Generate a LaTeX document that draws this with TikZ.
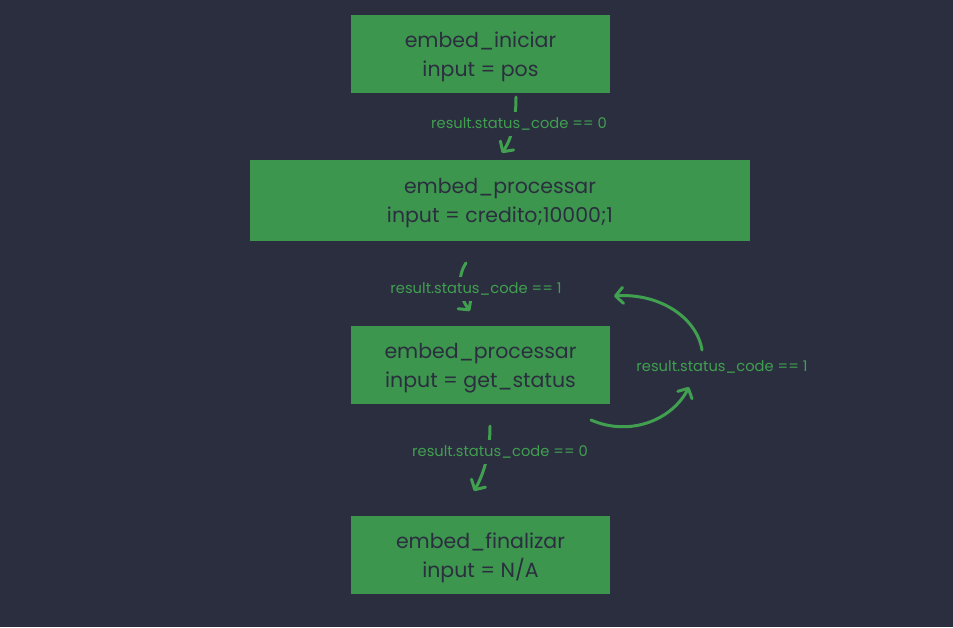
\documentclass[tikz,border=0pt]{standalone}
\usepackage{fontspec}
\setmainfont{Poppins}
\usetikzlibrary{arrows.meta}
\definecolor{bgnavy}{RGB}{43,46,63}
\definecolor{boxgreen}{RGB}{61,150,77}
\definecolor{linkgreen}{RGB}{64,160,80}
\tikzset{
  stepbox/.style={fill=boxgreen, draw=none, text=bgnavy, align=center,
    font=\fontsize{20.5pt}{29pt}\selectfont, inner sep=0pt},
  link/.style={draw=linkgreen, line width=3pt, line cap=round,
    -{Straight Barb[length=7.5pt,width=16pt,line width=3pt,round]}},
  cond/.style={text=linkgreen, fill=bgnavy, font=\fontsize{14.7pt}{16pt}\selectfont,
    inner xsep=1pt, inner ysep=6pt},
}
\begin{document}
\begin{tikzpicture}[x=1pt,y=-1pt]
  \fill[bgnavy] (0,0) rectangle (953,627);
  \useasboundingbox (0,0) rectangle (953,627);

  % steps (box first, then the two text lines on top)
  \node[stepbox, minimum width=259pt, minimum height=78pt] (iniciar) at (480.5,54) {};
  \node[stepbox, fill=none] (iniciarT) at (480.5,57) {embed\_iniciar\\input = pos};
  \node[stepbox, minimum width=500pt, minimum height=81pt] (credito) at (500,200.5) {};
  \node[stepbox, fill=none] (creditoT) at (500,203.5) {embed\_processar\\input = credito;10000;1};
  \node[stepbox, minimum width=259pt, minimum height=78pt] (status) at (480.5,365) {};
  \node[stepbox, fill=none] (statusT) at (480.5,368) {embed\_processar\\input = get\_status};
  \node[stepbox, minimum width=259pt, minimum height=78pt] (finalizar) at (480.5,555) {};
  \node[stepbox, fill=none] (finalizarT) at (480.5,558) {embed\_finalizar\\input = N/A};

  % connector end points
  \coordinate (a1) at (516,97);
  \coordinate (b1) at (502,153);
  \coordinate (a2) at (466,263);
  \coordinate (b2) at (470,311);
  \coordinate (a3) at (591,420);
  \coordinate (b3) at (689,387);
  \coordinate (a4) at (702,350);
  \coordinate (b4) at (614,296);
  \coordinate (a5) at (490,426);
  \coordinate (b5) at (474,491);

  % connectors
  \draw[link] (a1) .. controls (516,120) and (512,138) .. (b1);
  \node[cond] (c1) at (519,124) {result.status\_code == 0};

  \draw[link] (a2) .. controls (456,278) and (460,298) .. (b2);
  \node[cond] (c2) at (476,289) {result.status\_code == 1};

  \draw[link] (a3) .. controls (630,437) and (672,420) .. (b3);
  \draw[link] (a4) .. controls (697,318) and (660,293) .. (b4);
  \node[cond, inner ysep=2pt] (c3) at (722,367) {result.status\_code == 1};

  \draw[link] (a5) .. controls (490,448) and (486,470) .. (b5);
  \node[cond] (c4) at (500,452) {result.status\_code == 0};
\end{tikzpicture}
\end{document}
